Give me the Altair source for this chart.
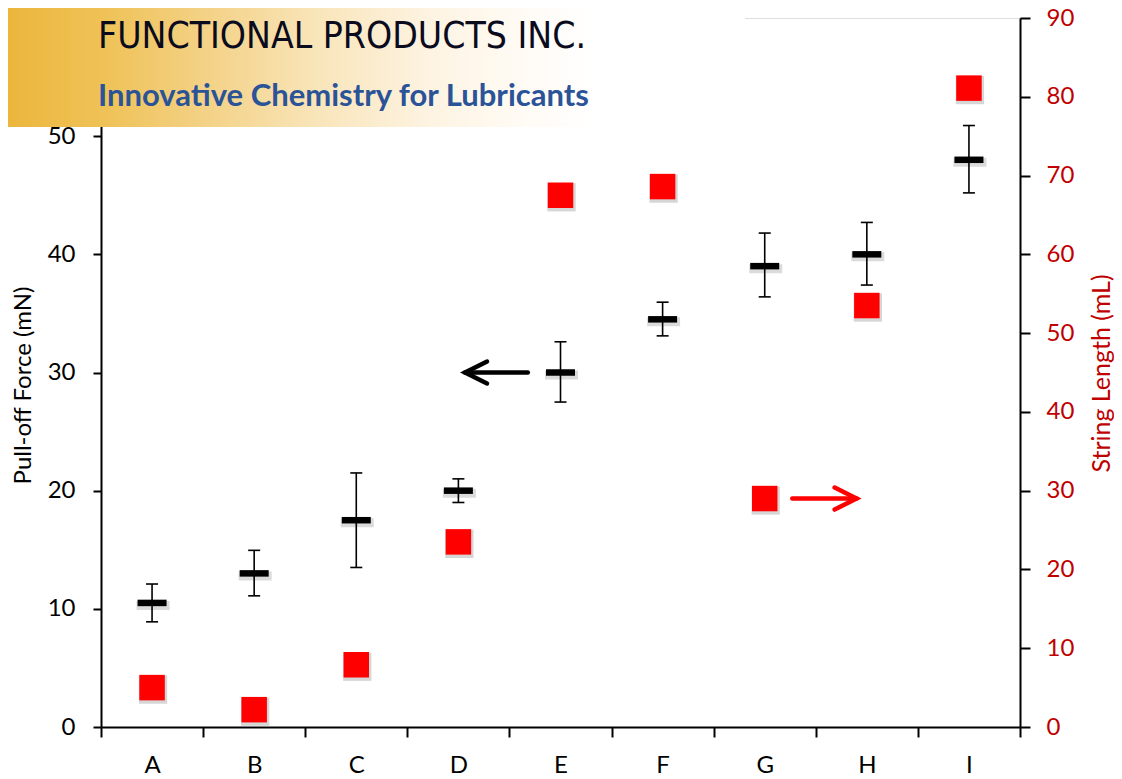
import altair as alt
import pandas as pd

# ---- data ----
categories = ["A", "B", "C", "D", "E", "F", "G", "H", "I"]
pull_off_force = [10.5, 13.0, 17.5, 20.0, 30.0, 34.5, 39.0, 40.0, 48.0]
force_low = [8.9, 11.1, 13.5, 19.0, 27.5, 33.1, 36.4, 37.4, 45.2]
force_high = [12.1, 14.95, 21.5, 21.0, 32.6, 35.95, 41.8, 42.7, 50.9]
string_length = [5.0, 2.2, 7.9, 23.5, 67.5, 68.6, 29.0, 53.5, 81.1]

left_ticks = [0, 10, 20, 30, 40, 50]
right_ticks = [0, 10, 20, 30, 40, 50, 60, 70, 80, 90]

# arrows (annotation): position along the category index axis and value
arrow_left = {"x1": 3.565, "x2": 4.18, "y": 30.0}   # points to left axis
arrow_right = {"x1": 6.77, "x2": 7.40, "y": 29.0}   # points to right axis

df = pd.DataFrame({
    "cat": categories,
    "force": pull_off_force,
    "lo": force_low,
    "hi": force_high,
    "string": string_length,
})

FONT = "Lato"
RED_TXT = "#C00000"

x_enc = alt.X(
    "cat:N",
    scale=alt.Scale(domain=categories, paddingInner=0, paddingOuter=0),
    axis=alt.Axis(
        title=None, labelAngle=0, tickBand="extent", tickSize=10, tickWidth=2,
        tickColor="black", domainColor="black", domainWidth=2,
        labelFontSize=24, labelColor="black", labelPadding=16, labelFont=FONT,
    ),
)

left_scale = alt.Scale(domain=[0, 60], nice=False, zero=True)
left_axis = alt.Axis(
    values=left_ticks, title="Pull-off Force (mN)", orient="left",
    tickSize=8, tickWidth=2, tickColor="black", domainColor="black", domainWidth=2,
    labelFontSize=24, labelColor="black", labelPadding=18, labelFont=FONT,
    titleFontSize=24, titleFont=FONT, titleFontWeight="normal", titleColor="black",
    titleX=-78, titleY=367, titleAlign="center", titleBaseline="middle", titleAngle=270,
    grid=False,
)
right_scale = alt.Scale(domain=[0, 90], nice=False, zero=True)
right_axis = alt.Axis(
    values=right_ticks, title="String Length (mL)", orient="right",
    tickSize=10, tickWidth=2, tickColor="black", domainColor="black", domainWidth=2,
    labelFontSize=24, labelColor=RED_TXT, labelPadding=16, labelFont=FONT,
    titleFontSize=25, titleFont=FONT, titleFontWeight="normal", titleColor=RED_TXT,
    titleX=81, titleY=355, titleAlign="center", titleBaseline="middle", titleAngle=270,
    grid=False,
)

base = alt.Chart(df)

err_rule = base.mark_rule(color="black", strokeWidth=1.6, opacity=1).encode(
    x=x_enc, y=alt.Y("lo:Q", scale=left_scale, axis=left_axis), y2="hi:Q")
cap_lo = base.mark_tick(color="black", size=12, thickness=1.6, opacity=1).encode(
    x=x_enc, y=alt.Y("lo:Q", scale=left_scale, axis=left_axis))
cap_hi = base.mark_tick(color="black", size=12, thickness=1.6, opacity=1).encode(
    x=x_enc, y=alt.Y("hi:Q", scale=left_scale, axis=left_axis))
bar_shadow = base.mark_tick(color="#888888", opacity=0.3, size=33, thickness=9,
                            yOffset=2.5, xOffset=1).encode(
    x=x_enc, y=alt.Y("force:Q", scale=left_scale, axis=left_axis))
bar = base.mark_tick(color="black", size=29, thickness=6.5, opacity=1).encode(
    x=x_enc, y=alt.Y("force:Q", scale=left_scale, axis=left_axis))

force_layer = alt.layer(bar_shadow, err_rule, cap_lo, cap_hi, bar)

sq_shadow = base.mark_square(color="#8a8a8a", opacity=0.35, size=800,
                             yOffset=2, xOffset=1).encode(
    x=x_enc, y=alt.Y("string:Q", scale=right_scale, axis=right_axis))
sq = base.mark_square(color="#FF0000", opacity=1, size=650).encode(
    x=x_enc, y=alt.Y("string:Q", scale=right_scale, axis=right_axis))
string_layer = alt.layer(sq_shadow, sq)

data_layer = alt.layer(force_layer, string_layer).resolve_scale(y="independent")

# ---- arrows ----
idx_scale = alt.Scale(domain=[0, 9], nice=False, zero=False)
adf_l = pd.DataFrame([arrow_left])
adf_r = pd.DataFrame([arrow_right])

def arrow(adf, yscale, color, head_at, path):
    shaft = alt.Chart(adf).mark_rule(color=color, strokeWidth=4.5, strokeCap="round").encode(
        x=alt.X("x1:Q", scale=idx_scale, axis=None),
        x2="x2:Q",
        y=alt.Y("y:Q", scale=yscale, axis=None),
    )
    head = alt.Chart(adf).mark_point(shape=path, filled=False, color=color, strokeWidth=4.5,
                                     size=484, opacity=1, strokeCap="round",
                                     strokeJoin="miter").encode(
        x=alt.X(f"{head_at}:Q", scale=idx_scale, axis=None),
        y=alt.Y("y:Q", scale=yscale, axis=None),
    )
    return alt.layer(shaft, head)

arrow_l = arrow(adf_l, alt.Scale(domain=[0, 60], nice=False), "black", "x1",
                "M 2 -1 L 0 0 L 2 1")
arrow_r = arrow(adf_r, alt.Scale(domain=[0, 90], nice=False), "#FF0000", "x2",
                "M -2 -1 L 0 0 L -2 1")

# ---- logo banner ----
one = pd.DataFrame({"k": [0]})
grad = alt.Gradient(
    gradient="linear", x1=0, x2=1, y1=0, y2=0,
    stops=[
        alt.GradientStop(color="#ECB63C", offset=0.0),
        alt.GradientStop(color="#EFC257", offset=0.13),
        alt.GradientStop(color="#F4D38A", offset=0.28),
        alt.GradientStop(color="#F9E5BA", offset=0.42),
        alt.GradientStop(color="#FDF3E1", offset=0.57),
        alt.GradientStop(color="#FFFBF5", offset=0.70),
        alt.GradientStop(color="#FFFFFF", offset=0.80),
        alt.GradientStop(color="#FFFFFF", offset=1.0),
    ],
)
logo_bg = alt.Chart(one).mark_rect(fill=grad, stroke=None).encode(
    x=alt.value(-93), x2=alt.value(644), y=alt.value(-10), y2=alt.value(109))
logo_t1 = alt.Chart(one).mark_text(
    align="left", baseline="alphabetic", fontSize=37, color="#0B0B1E",
    font="Liberation Sans Narrow, DejaVu Sans Condensed, sans-serif",
).encode(x=alt.value(-3), y=alt.value(30), text=alt.value("FUNCTIONAL  PRODUCTS  INC."))
logo_t2 = alt.Chart(one).mark_text(
    align="left", baseline="alphabetic", fontSize=31, fontWeight="bold", color="#2B5397",
    font=FONT,
).encode(x=alt.value(-3), y=alt.value(88), text=alt.value("Innovative Chemistry for Lubricants"))

chart = alt.layer(
    data_layer, arrow_l, arrow_r, logo_bg, logo_t1, logo_t2
).resolve_scale(x="independent", y="independent").properties(
    width=919, height=709,
    padding={"left": 93, "top": 10, "right": 94, "bottom": 52},
    autosize=alt.AutoSizeParams(type="none"),
).configure_view(stroke="black", strokeWidth=2).configure(font=FONT)

chart.save("out.html", embed_options={"renderer": "svg", "actions": False})
